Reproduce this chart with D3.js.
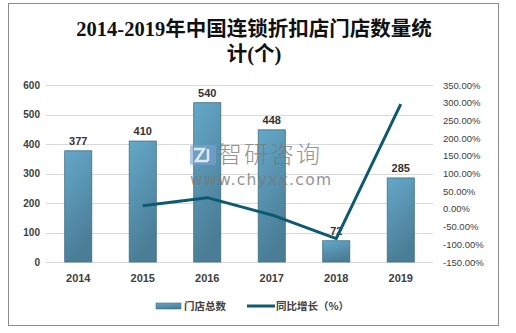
<!DOCTYPE html>
<html>
<head>
<meta charset="utf-8">
<script src="https://cdn.jsdelivr.net/npm/d3@7/dist/d3.min.js"></script>
<style>
  html, body { margin: 0; padding: 0; background: #fff; }
  svg { display: block; }
</style>
</head>
<body>
<svg id="chart" width="516" height="333"></svg>
<script>
const years = ["2014", "2015", "2016", "2017", "2018", "2019"];
const storeCounts = [377, 410, 540, 448, 72, 285];
const growthYears = ["2015", "2016", "2017", "2018", "2019"];
const growthPct = [8.75, 31.71, -17.04, -83.93, 295.83];
const leftTicks = [0, 100, 200, 300, 400, 500, 600];
const rightTicks = [-150, -100, -50, 0, 50, 100, 150, 200, 250, 300, 350];
const titleLines = ["2014-2019年中国连锁折扣店门店数量统", "计(个)"];
const legendLabels = ["门店总数", "同比增长（%）"];

const svg = d3.select("#chart");
const plot = { left: 46, right: 433, top: 85, bottom: 262 };

// outer frame
svg.append("rect").attr("x", 8.5).attr("y", 3.5).attr("width", 490).attr("height", 322)
  .attr("fill", "#fff").attr("stroke", "#8c8c8c").attr("stroke-width", 1);

// title, two lines
svg.append("g").selectAll("text").data(titleLines).join("text")
  .attr("x", 254).attr("y", (d, i) => 36 + i * 25)
  .attr("text-anchor", "middle")
  .attr("font-family", "'Liberation Serif','Noto Sans CJK SC',serif")
  .attr("font-size", 20.5).attr("font-weight", "bold").attr("fill", "#111")
  .text(d => d);

const x = d3.scaleBand().domain(years).range([plot.left, plot.right]).paddingInner(0.58).paddingOuter(0.29);
const y = d3.scaleLinear().domain([0, 600]).range([plot.bottom, plot.top]);
const y2 = d3.scaleLinear().domain([-150, 350]).range([plot.bottom, plot.top]);

// gridlines
svg.append("g").selectAll("line").data(leftTicks).join("line")
  .attr("x1", plot.left).attr("x2", plot.right)
  .attr("y1", d => Math.round(y(d)) + 0.5).attr("y2", d => Math.round(y(d)) + 0.5)
  .attr("stroke", "#d9d9d9").attr("stroke-width", 1);

// left axis
const leftAxis = svg.append("g").attr("transform", `translate(${plot.left - 6},0)`)
  .call(d3.axisLeft(y).tickValues(leftTicks).tickSize(0).tickPadding(0));
leftAxis.select(".domain").remove();
leftAxis.selectAll("text").attr("font-family", "Arial, 'Liberation Sans', sans-serif")
  .attr("font-size", 10).attr("font-weight", "bold").attr("fill", "#404040");

// right axis
const rightAxis = svg.append("g").attr("transform", `translate(${plot.right + 10},0)`)
  .call(d3.axisRight(y2).tickValues(rightTicks).tickSize(0).tickPadding(0)
    .tickFormat(d => d.toFixed(2) + "%"));
rightAxis.select(".domain").remove();
rightAxis.selectAll("text").attr("font-family", "Arial, 'Liberation Sans', sans-serif")
  .attr("font-size", 9.5).attr("fill", "#404040");

// category labels
const xAxis = svg.append("g").attr("transform", `translate(0,${plot.bottom + 12})`)
  .call(d3.axisBottom(x).tickSize(0).tickPadding(0));
xAxis.select(".domain").remove();
xAxis.selectAll("text").attr("font-family", "Arial, 'Liberation Sans', sans-serif")
  .attr("font-size", 11).attr("font-weight", "bold").attr("fill", "#404040");

// bar gradient
const defs = svg.append("defs");
const grad = defs.append("linearGradient").attr("id", "barGrad")
  .attr("x1", 0).attr("y1", 0).attr("x2", 0.3).attr("y2", 1);
grad.append("stop").attr("offset", "0%").attr("stop-color", "#64a8c8");
grad.append("stop").attr("offset", "100%").attr("stop-color", "#4a7d96");

// bars
svg.append("g").selectAll("rect").data(storeCounts).join("rect")
  .attr("x", (d, i) => x(years[i]))
  .attr("y", d => y(d))
  .attr("width", x.bandwidth())
  .attr("height", d => y(0) - y(d))
  .attr("fill", "url(#barGrad)")
  .attr("stroke", "#3f6f86").attr("stroke-width", 0.8);

// bar value labels
svg.append("g").selectAll("text").data(storeCounts).join("text")
  .attr("x", (d, i) => x(years[i]) + x.bandwidth() / 2)
  .attr("y", d => y(d) - 6)
  .attr("text-anchor", "middle")
  .attr("font-family", "Arial, 'Liberation Sans', sans-serif")
  .attr("font-size", 11).attr("font-weight", "bold").attr("fill", "#333")
  .text(d => d);

// watermark
const wm = svg.append("g").attr("opacity", 0.8);
wm.append("rect").attr("x", 190).attr("y", 145).attr("width", 26).attr("height", 20).attr("rx", 2)
  .attr("fill", "#7ea3d2").attr("opacity", 0.75);
wm.append("path").attr("d", "M194,149 h10 l-8,12 h12 M208,149 v12")
  .attr("fill", "none").attr("stroke", "#fff").attr("stroke-width", 2.5);
wm.append("text").attr("x", 218).attr("y", 163)
  .attr("font-family", "'Noto Sans CJK SC', sans-serif").attr("font-size", 24)
  .attr("font-weight", 300).attr("fill", "#7a7a7a").attr("letter-spacing", 2).text("智研咨询");
wm.append("text").attr("x", 190).attr("y", 185)
  .attr("font-family", "'DejaVu Sans', sans-serif").attr("font-size", 15.5)
  .attr("fill", "#7a7a7a").attr("letter-spacing", 1.3).text("www.chyxx.com");

// growth line
const line = d3.line()
  .x((d, i) => x(growthYears[i]) + x.bandwidth() / 2)
  .y(d => y2(d));
svg.append("path").datum(growthPct)
  .attr("d", line).attr("fill", "none")
  .attr("stroke", "#0d5a70").attr("stroke-width", 3).attr("stroke-linejoin", "round");

// legend
const lg = svg.append("g");
lg.append("rect").attr("x", 156).attr("y", 303).attr("width", 25).attr("height", 6)
  .attr("fill", "url(#barGrad)").attr("stroke", "#3f6f86").attr("stroke-width", 0.6);
lg.append("text").attr("x", 184).attr("y", 310)
  .attr("font-family", "'Noto Sans CJK SC', sans-serif").attr("font-size", 10.5)
  .attr("font-weight", "bold").attr("fill", "#404040").text(legendLabels[0]);
lg.append("line").attr("x1", 247).attr("x2", 275).attr("y1", 306).attr("y2", 306)
  .attr("stroke", "#0d5a70").attr("stroke-width", 3);
lg.append("text").attr("x", 276).attr("y", 310)
  .attr("font-family", "'Noto Sans CJK SC', sans-serif").attr("font-size", 10.5)
  .attr("font-weight", "bold").attr("fill", "#404040").text(legendLabels[1]);
</script>
</body>
</html>
